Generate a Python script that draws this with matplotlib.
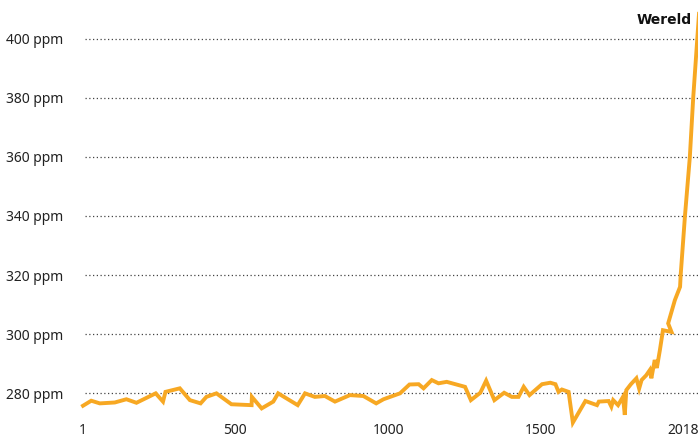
import matplotlib
matplotlib.use("Agg")
import matplotlib.pyplot as plt

# CO2 concentratie (ppm) per jaar
years = [1, 28, 56, 105, 143, 176, 239, 263, 271, 318, 351, 386, 405, 438,
         487, 553, 554, 586, 624, 640, 704, 728, 760, 793, 826, 875, 919,
         961, 985, 1039, 1070, 1100, 1116, 1143, 1165, 1192, 1252, 1271,
         1302, 1321, 1348, 1380, 1405, 1427, 1444, 1463, 1504, 1531, 1548,
         1558, 1569, 1591, 1605, 1646, 1684, 1690, 1722, 1731, 1737, 1753,
         1769, 1775, 1780, 1795, 1813, 1822, 1830, 1845, 1857, 1862, 1873,
         1880, 1890, 1900, 1928, 1917, 1939, 1956, 1958, 1972, 1988, 1999,
         2018]
ppm = [275.7, 277.4, 276.5, 276.8, 277.9, 276.7, 279.9, 277.1, 280.4, 281.6,
       277.6, 276.5, 278.7, 279.9, 276.2, 275.9, 278.7, 274.8, 277.1, 279.9,
       275.9, 279.9, 278.7, 279.0, 277.1, 279.3, 279.0, 276.5, 277.9, 279.9,
       282.9, 283.0, 281.6, 284.4, 283.3, 283.8, 282.1, 277.6, 280.1, 284.2,
       277.6, 280.1, 278.7, 278.7, 282.1, 279.3, 283.0, 283.5, 283.0, 280.4,
       281.2, 280.4, 270.0, 277.3, 275.9, 277.1, 277.3, 275.4, 277.6, 275.9,
       278.7, 272.6, 281.0, 283.0, 285.0, 281.5, 284.4, 286.0, 287.8, 285.0,
       291.2, 288.5, 294.6, 301.3, 300.7, 303.6, 311.5, 316.0, 320.0, 340.0,
       360.0, 380.0, 408.5]

yticks = [280, 300, 320, 340, 360, 380, 400]
xticks = [1, 500, 1000, 1500, 2018]

W, H = 698, 441
fig = plt.figure(figsize=(W / 100, H / 100), dpi=100)
ax = fig.add_axes([83 / W, (H - 422) / H, 616 / W, 417 / H])

ax.plot(years, ppm, color="#F7A823", lw=2.8, solid_joinstyle="miter",
        zorder=3, clip_on=False)

ax.set_xlim(1, 2018)
ax.set_ylim(270.19, 411.5)

for v in yticks:
    ax.axhline(v, color="#444444", lw=0.9, ls=(0, (1, 2)), zorder=1,
               xmin=0.004)

ax.set_yticks(yticks)
ax.set_yticklabels([f"{v} ppm" for v in yticks])
ax.set_xticks(xticks)
ax.set_xticklabels([str(v) for v in xticks])
ax.tick_params(length=0, labelsize=10, colors="#222222")
ax.tick_params(axis="y", pad=14)
ax.tick_params(axis="x", pad=1)
for lab in ax.get_yticklabels() + ax.get_xticklabels():
    lab.set_family("Noto Sans")
ax.get_xticklabels()[-1].set_horizontalalignment("right")

for s in ax.spines.values():
    s.set_visible(False)

ax.text(1994, 406.4, "Wereld", ha="right", va="center",
        fontsize=10, fontweight="bold", family="DejaVu Sans", color="#111111")

fig.savefig("out.png", dpi=100)
